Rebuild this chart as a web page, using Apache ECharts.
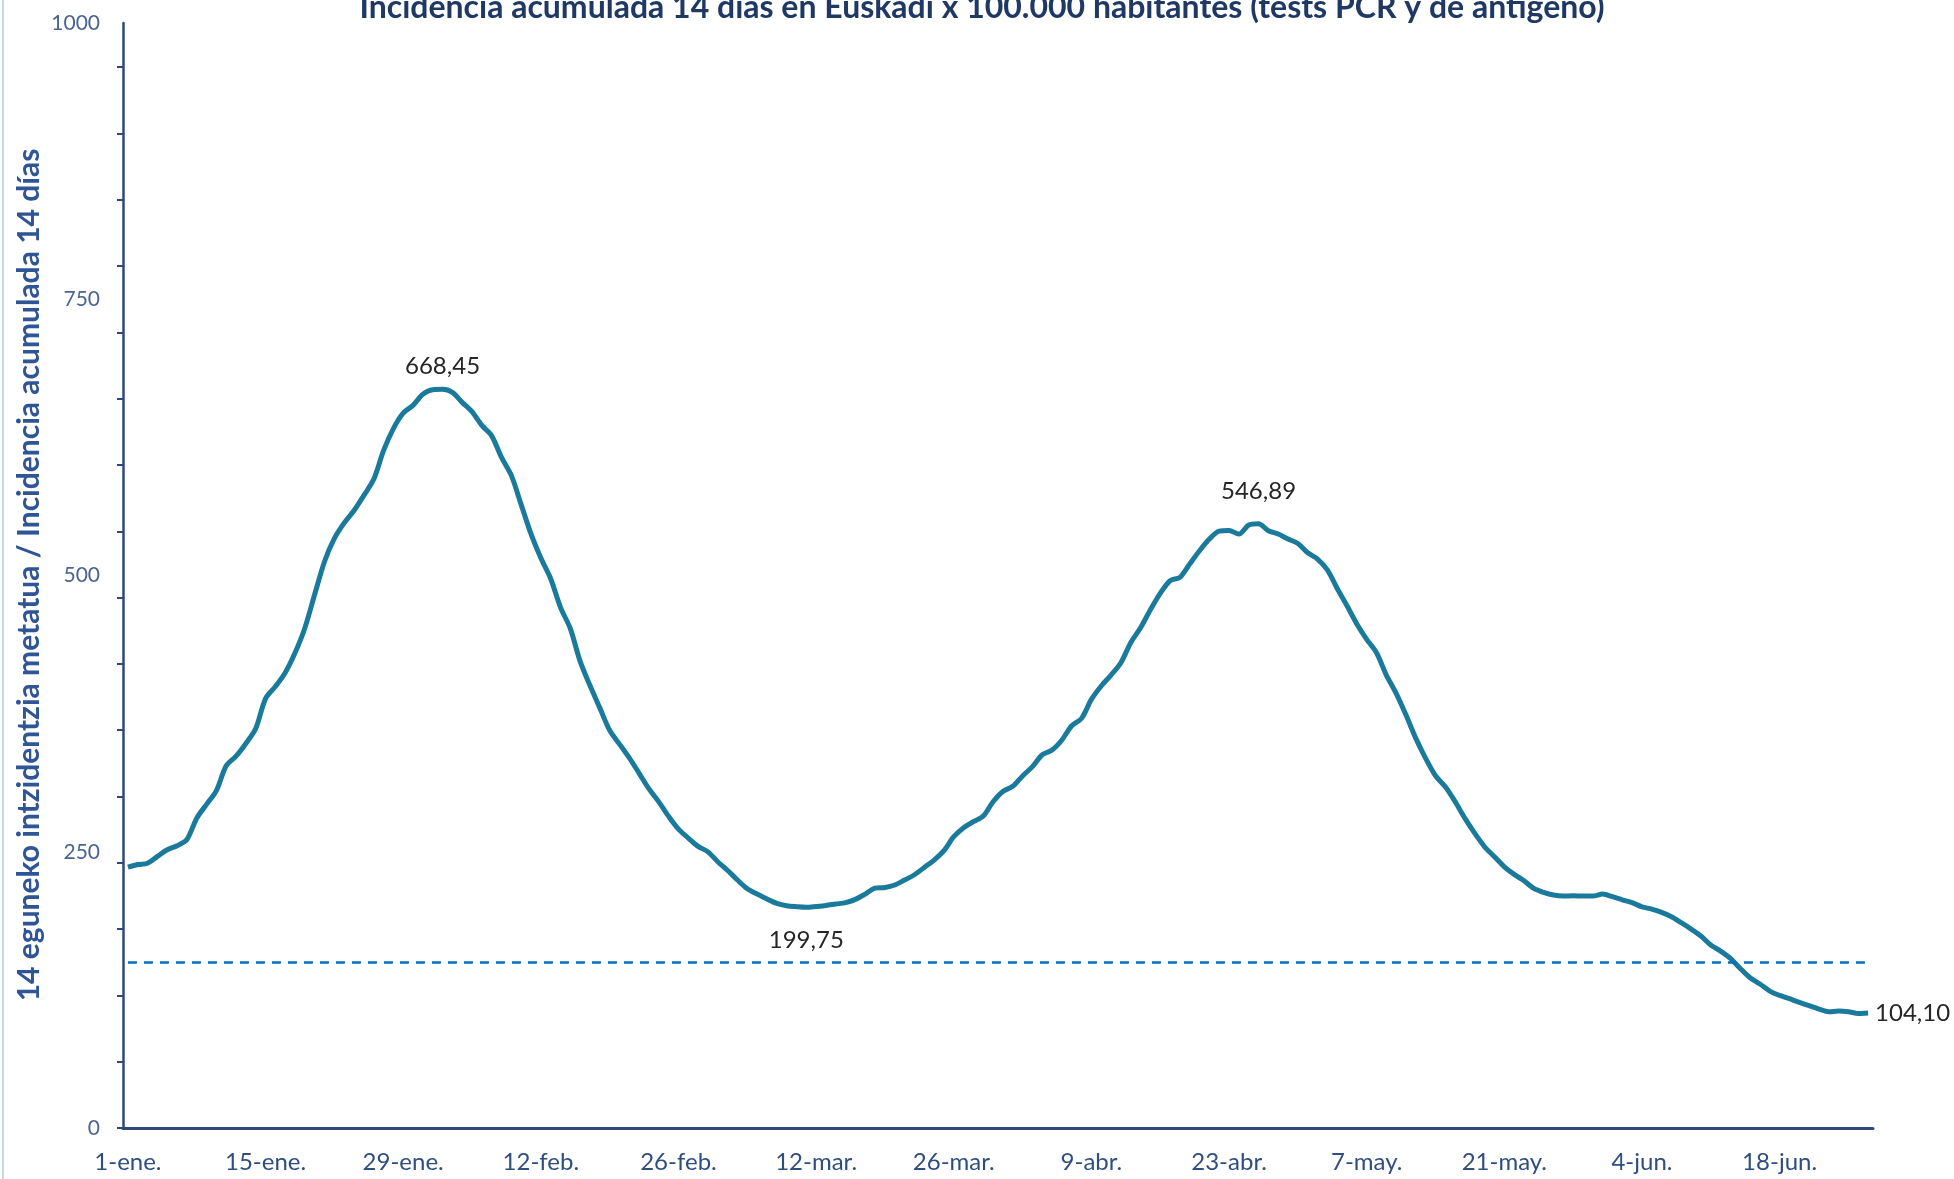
<!DOCTYPE html>
<html><head><meta charset="utf-8">
<script src="https://cdn.jsdelivr.net/npm/echarts@6/dist/echarts.min.js"></script>
<style>html,body{margin:0;padding:0;background:#fff}#c{width:1954px;height:1179px}</style>
</head><body><div id="c"></div>
<script>
const categories = [
'1-ene.','2-ene.','3-ene.','4-ene.','5-ene.','6-ene.','7-ene.','8-ene.','9-ene.','10-ene.','11-ene.','12-ene.','13-ene.','14-ene.','15-ene.','16-ene.','17-ene.','18-ene.','19-ene.','20-ene.','21-ene.','22-ene.','23-ene.','24-ene.','25-ene.','26-ene.','27-ene.','28-ene.','29-ene.','30-ene.','31-ene.',
'1-feb.','2-feb.','3-feb.','4-feb.','5-feb.','6-feb.','7-feb.','8-feb.','9-feb.','10-feb.','11-feb.','12-feb.','13-feb.','14-feb.','15-feb.','16-feb.','17-feb.','18-feb.','19-feb.','20-feb.','21-feb.','22-feb.','23-feb.','24-feb.','25-feb.','26-feb.','27-feb.','28-feb.',
'1-mar.','2-mar.','3-mar.','4-mar.','5-mar.','6-mar.','7-mar.','8-mar.','9-mar.','10-mar.','11-mar.','12-mar.','13-mar.','14-mar.','15-mar.','16-mar.','17-mar.','18-mar.','19-mar.','20-mar.','21-mar.','22-mar.','23-mar.','24-mar.','25-mar.','26-mar.','27-mar.','28-mar.','29-mar.','30-mar.','31-mar.',
'1-abr.','2-abr.','3-abr.','4-abr.','5-abr.','6-abr.','7-abr.','8-abr.','9-abr.','10-abr.','11-abr.','12-abr.','13-abr.','14-abr.','15-abr.','16-abr.','17-abr.','18-abr.','19-abr.','20-abr.','21-abr.','22-abr.','23-abr.','24-abr.','25-abr.','26-abr.','27-abr.','28-abr.','29-abr.','30-abr.',
'1-may.','2-may.','3-may.','4-may.','5-may.','6-may.','7-may.','8-may.','9-may.','10-may.','11-may.','12-may.','13-may.','14-may.','15-may.','16-may.','17-may.','18-may.','19-may.','20-may.','21-may.','22-may.','23-may.','24-may.','25-may.','26-may.','27-may.','28-may.','29-may.','30-may.','31-may.',
'1-jun.','2-jun.','3-jun.','4-jun.','5-jun.','6-jun.','7-jun.','8-jun.','9-jun.','10-jun.','11-jun.','12-jun.','13-jun.','14-jun.','15-jun.','16-jun.','17-jun.','18-jun.','19-jun.','20-jun.','21-jun.','22-jun.','23-jun.','24-jun.','25-jun.','26-jun.','27-jun.'
];
const incidence = [
236.0,238.4,239.6,245.8,251.8,255.5,261.1,280.4,292.9,305.4,327.8,336.5,348.0,361.5,388.6,399.5,412.0,430.0,452.5,483.0,512.7,533.5,547.6,558.8,572.5,587.0,613.0,633.0,647.0,654.0,664.0,
668.2,668.45,665.7,656.7,648.2,635.8,626.4,606.8,590.6,564.1,537.6,515.8,497.1,471.2,451.9,422.3,400.4,380.2,359.9,347.4,335.0,321.0,306.9,295.1,282.0,270.5,262.4,254.9,
249.9,241.0,233.0,224.4,216.5,211.7,207.2,203.3,201.2,200.3,199.75,200.5,201.4,202.7,203.9,206.9,211.7,217.1,217.7,219.9,224.4,229.2,235.8,242.5,251.0,263.6,271.8,277.2,282.3,295.3,304.6,
309.2,318.6,327.0,337.8,342.0,351.1,364.0,370.7,387.9,400.0,409.9,421.1,439.2,452.7,469.0,483.8,495.3,498.3,510.4,522.4,533.0,540.2,540.8,537.5,545.7,546.89,540.5,537.5,533.0,529.0,520.6,
514.9,505.0,488.3,472.7,456.1,442.2,430.1,409.9,393.3,373.7,352.6,334.5,318.8,308.8,295.3,280.2,266.6,254.5,245.5,236.4,229.5,223.8,216.8,213.2,210.8,209.9,210.2,209.9,209.9,211.7,209.3,
206.5,203.9,200.2,198.1,195.1,191.2,185.8,180.0,173.7,165.6,160.1,153.5,144.4,136.0,130.3,123.9,120.0,117.0,113.7,110.7,107.6,105.2,105.8,105.2,103.7,104.1
];
const threshold = 150;
const yLabelValues = [0, 250, 500, 750, 1000];
const yTickValues = [0, 60, 120, 180, 240, 300, 360, 420, 480, 540, 600, 660, 720, 780, 840, 900, 960];
const labeledIndices = [32, 69, 115, 177];
const titleText = 'Incidencia acumulada 14 días en Euskadi x 100.000 habitantes (tests PCR y de antígeno)';
const yTitleText = '14 eguneko intzidentzia metatua / Incidencia acumulada 14 días';

const labelStyleByIndex = {
  32: {position: 'top', distance: 11},
  69: {position: 'bottom', distance: 21},
  115: {position: 'top', distance: 20},
  177: {position: 'right', distance: 7}
};
const fmt = v => v.toFixed(2).replace('.', ',');
const seriesData = incidence.map((v, i) => {
  if (labeledIndices.indexOf(i) >= 0) {
    const s = labelStyleByIndex[i];
    return {value: v, label: {show: true, position: s.position, distance: s.distance, formatter: fmt(v)}};
  }
  return v;
});

const chart = echarts.init(document.getElementById('c'), null, {renderer: 'canvas'});
const FONT = 'Lato';
chart.setOption({
  animation: false,
  backgroundColor: '#ffffff',
  grid: {left: 123, right: 81, top: 23, bottom: 51, containLabel: false},
  xAxis: {
    type: 'category',
    data: categories,
    boundaryGap: true,
    axisLine: {show: true, lineStyle: {color: '#2F4A7A', width: 3}},
    axisTick: {show: false},
    axisLabel: {interval: 13, color: '#2F4E80', fontSize: 24, fontFamily: FONT, margin: 22},
    splitLine: {show: false}
  },
  yAxis: {
    type: 'value',
    min: 0, max: 1000, interval: 250,
    axisLine: {show: true, lineStyle: {color: '#2F4A7A', width: 2.5}},
    axisTick: {show: true, inside: false, length: 6, customValues: yTickValues, lineStyle: {color: '#2F4A7A', width: 2}},
    axisLabel: {customValues: yLabelValues, formatter: v => String(v), color: '#4A6591', fontSize: 21, fontFamily: FONT, margin: 23},
    splitLine: {show: false}
  },
  graphic: [
    {type: 'line', shape: {x1: 3, y1: 0, x2: 3, y2: 1179}, style: {stroke: '#C5D9F1', lineWidth: 2}, silent: true},
    {type: 'text', x: 982, y: 8, silent: true,
     style: {text: titleText, fill: '#1F3864', font: 'bold 32px Lato', textAlign: 'center', textVerticalAlign: 'middle'}},
    {type: 'text', x: 29, y: 575, rotation: Math.PI / 2, silent: true,
     style: {text: yTitleText, fill: '#2F5597', font: 'bold 30px Lato', textAlign: 'center', textVerticalAlign: 'middle'}}
  ],
  series: [{
    type: 'line',
    data: seriesData,
    smooth: 0.3,
    symbol: 'circle',
    symbolSize: 0,
    showSymbol: true,
    showAllSymbol: true,
    lineStyle: {color: '#1A7A9C', width: 5},
    itemStyle: {color: '#1A7A9C'},
    label: {show: false, color: '#262626', fontSize: 24, fontFamily: FONT},
    emphasis: {disabled: true},
    markLine: {
      silent: true,
      symbol: ['none', 'none'],
      label: {show: false},
      lineStyle: {color: '#0070C0', width: 2.5, type: [9, 7]},
      data: [[{coord: [categories[0], threshold]}, {coord: [categories[categories.length - 1], threshold]}]]
    }
  }]
});
</script>
</body></html>
